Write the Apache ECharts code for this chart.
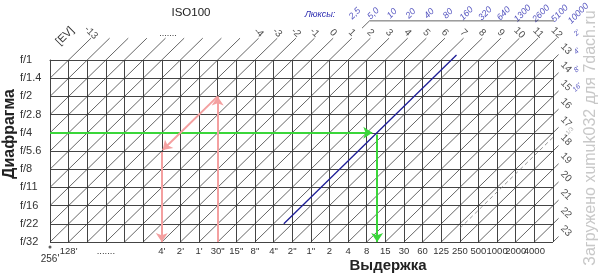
<!DOCTYPE html>
<html>
<head>
<meta charset="utf-8">
<script src="https://cdn.jsdelivr.net/npm/echarts@6/dist/echarts.min.js"></script>
<style>
html,body{margin:0;padding:0;background:#fff;}
#chart{width:600px;height:277px;}
</style>
</head>
<body>
<div id="chart"></div>
<script>
// ---------- data ----------
const fStops = ['f/1','f/1.4','f/2','f/2.8','f/4','f/5.6','f/8','f/11','f/16','f/22','f/32'];
const shutterLabels = ["256'","128'","",".......","","","4'","2'","1'","30\"","15\"","8\"","4\"","2\"","1\"",
  "2","4","8","15","30","60","125","250","500","1000","2000","4000"];
const evTopValues = [-13,-4,-3,-2,-1,0,1,2,3,4,5,6,7,8,9,10,11,12];
const evRightValues = [13,14,15,16,17,18,19,20,21,22,23];
const evLineValues = [-13,-12,-11,-10,-9,-8,-7,-6,-5,-4,-3,-2,-1,0,1,2,3,4,5,6,7,8,9,10,11,12,13,14,15,16,17,18,19,20,21,22,23];
const luxLabels = ['2,5','5,0','10','20','40','80','160','320','640','1300','2600','5100','10000']; // EV 0..12
const longTimes = ["2'","4'","8'","16'"]; // EV 12..15
const bluePath = [[12.55,9.0],[21.82,-0.27]];
const dashedPath = [[22.0,9.25],[27.5,3.75]];
const greenRight = [[0,4],[17.3,4]];
const greenDown = [[17.56,4.1],[17.56,10]];
const pinkUp = [[9,10],[9,2]];
const pinkDiag = [[9,2],[6.05,4.95]];
const pinkDown = [[6,5.05],[6,10]];

// ---------- helpers ----------
const U0 = 14; // column of 1 s at f/1 (EV 0)
const FONT = '"Liberation Sans", Arial, sans-serif';

const diagSegments = evLineValues.map(e => {
  const start = (e + 4 >= 0) ? [e + 4, 10] : [0, 14 + e];
  const end = (e <= 12) ? [U0 + e + 1.2, -1.2] : [27.3, e - 13 - 0.3];
  return { coords: [start, end] };
});

function labelSeries(data, opts) {
  return {
    type: 'scatter', clip: false, silent: true, symbolSize: 1,
    itemStyle: { color: 'transparent' },
    data: data,
    label: Object.assign({
      show: true, position: 'inside', formatter: p => p.value[2],
      fontFamily: FONT, color: '#333', fontSize: 10
    }, opts)
  };
}

const chart = echarts.init(document.getElementById('chart'), null, { renderer: 'canvas' });
const option = {
  animation: false,
  textStyle: { fontFamily: FONT },
  grid: { left: 50, right: 47, top: 60, bottom: 35 },
  xAxis: {
    type: 'value', min: 0, max: 27, interval: 1,
    axisLine: { show: true, lineStyle: { color: '#444', width: 1 } },
    axisTick: { show: false },
    splitLine: { show: true, lineStyle: { color: '#444', width: 1 } },
    axisLabel: {
      margin: 4, fontSize: 9.5, color: '#333', fontFamily: FONT,
      showMinLabel: true, showMaxLabel: true,
      formatter: v => {
        const i = Math.round(v);
        const t = shutterLabels[i] || '';
        if (i === 0) return '{low|' + t + '}';
        return t;
      },
      rich: { low: { padding: [8, 0, 0, 0], fontSize: 10, color: '#333', fontFamily: FONT } }
    }
  },
  yAxis: {
    type: 'value', min: 0, max: 10, interval: 1, inverse: true,
    axisLine: { show: true, lineStyle: { color: '#444', width: 1 } },
    axisTick: { show: false },
    splitLine: { show: true, lineStyle: { color: '#444', width: 1 } },
    axisLabel: {
      margin: 30, align: 'left', fontSize: 11, color: '#333', fontFamily: FONT,
      formatter: v => fStops[Math.round(v)] || ''
    }
  },
  graphic: [
    { type: 'text', x: 191, y: 13, style: { text: 'ISO100', font: '11.5px ' + FONT, fill: '#222', textAlign: 'center', textVerticalAlign: 'middle' } },
    { type: 'text', x: 320, y: 14, style: { text: 'Люксы:', font: 'italic 9px ' + FONT, fill: '#2b2bb0', textAlign: 'center', textVerticalAlign: 'middle' } },
    { type: 'text', x: 65, y: 36, rotation: Math.PI / 4, style: { text: '[EV]', font: '11px ' + FONT, fill: '#333', textAlign: 'center', textVerticalAlign: 'middle' } },
    { type: 'text', x: 168, y: 34, style: { text: '.......', font: '9px ' + FONT, fill: '#333', textAlign: 'center', textVerticalAlign: 'middle' } },
    { type: 'text', x: 10, y: 134, rotation: Math.PI / 2, style: { text: 'Диафрагма', font: 'bold 16px ' + FONT, fill: '#222', textAlign: 'center', textVerticalAlign: 'middle' } },
    { type: 'text', x: 388, y: 266, style: { text: 'Выдержка', font: 'bold 15px ' + FONT, fill: '#222', textAlign: 'center', textVerticalAlign: 'middle' } },
    { type: 'text', x: 591, y: 138, rotation: Math.PI / 2, style: { text: 'Загружено xumuk032 для 7dach.ru', font: '16px ' + FONT, fill: '#c8c8c8', textAlign: 'center', textVerticalAlign: 'middle' } }
  ],
  series: [
    {
      type: 'lines', coordinateSystem: 'cartesian2d', clip: false, silent: true,
      lineStyle: { color: '#333', width: 0.75, opacity: 1 },
      data: diagSegments
    },
    {
      type: 'line', clip: false, silent: true, showSymbol: false,
      lineStyle: { color: '#333', width: 0.75 },
      data: [[U0 + 1 + 1.75, -1.75], [U0 + 1 + 2.15, -2.15], [28.6, -2.15]]
    },
    {
      type: 'line', clip: false, silent: true, showSymbol: false,
      lineStyle: { color: '#777', width: 0.8, type: [4, 3] },
      data: dashedPath
    },
    {
      type: 'line', clip: false, silent: true, showSymbol: false,
      lineStyle: { color: '#1c1c96', width: 1.3 },
      data: bluePath
    },
    {
      type: 'line', silent: true, data: [],
      markLine: {
        silent: true, symbol: ['none', 'arrow'], symbolSize: 9, label: { show: false },
        lineStyle: { color: '#3ad63a', width: 2, type: 'solid' },
        data: [
          [{ coord: greenRight[0] }, { coord: greenRight[1] }],
          [{ coord: greenDown[0] }, { coord: greenDown[1] }]
        ]
      }
    },
    {
      type: 'line', silent: true, data: [],
      markLine: {
        silent: true, symbol: ['none', 'arrow'], symbolSize: 9, label: { show: false },
        lineStyle: { color: '#f4a0a0', width: 2, type: 'solid' },
        data: [
          [{ coord: pinkUp[0] }, { coord: pinkUp[1] }],
          [{ coord: pinkDiag[0] }, { coord: pinkDiag[1] }],
          [{ coord: pinkDown[0] }, { coord: pinkDown[1] }]
        ]
      }
    },
    {
      type: 'scatter', clip: false, silent: true, symbolSize: 3,
      symbolOffset: [0, 5], itemStyle: { color: '#333' }, data: [[0, 10]]
    },
    labelSeries(evTopValues.map(e => [U0 + e + 1.2, -1.5, String(e)]), { rotate: -45, fontSize: 10, color: '#222' }),
    labelSeries(evRightValues.map(e => [27.7, e - 13 - 0.6, String(e)]), { rotate: -45, fontSize: 10, color: '#222' }),
    labelSeries(luxLabels.map((t, i) => [U0 + i + 2.36, -2.55, t]), { rotate: 45, fontSize: 9, fontStyle: 'italic', color: '#2b2bb0' }),
    labelSeries(longTimes.map((t, i) => [28.29, i - 1.48, t]), { rotate: 45, fontSize: 7, fontStyle: 'italic', color: '#2b2bb0' }),
    labelSeries([[27.9, 3.9, '1/3']], { rotate: 45, fontSize: 6, color: '#999' })
  ]
};
chart.setOption(option);
</script>
</body>
</html>
